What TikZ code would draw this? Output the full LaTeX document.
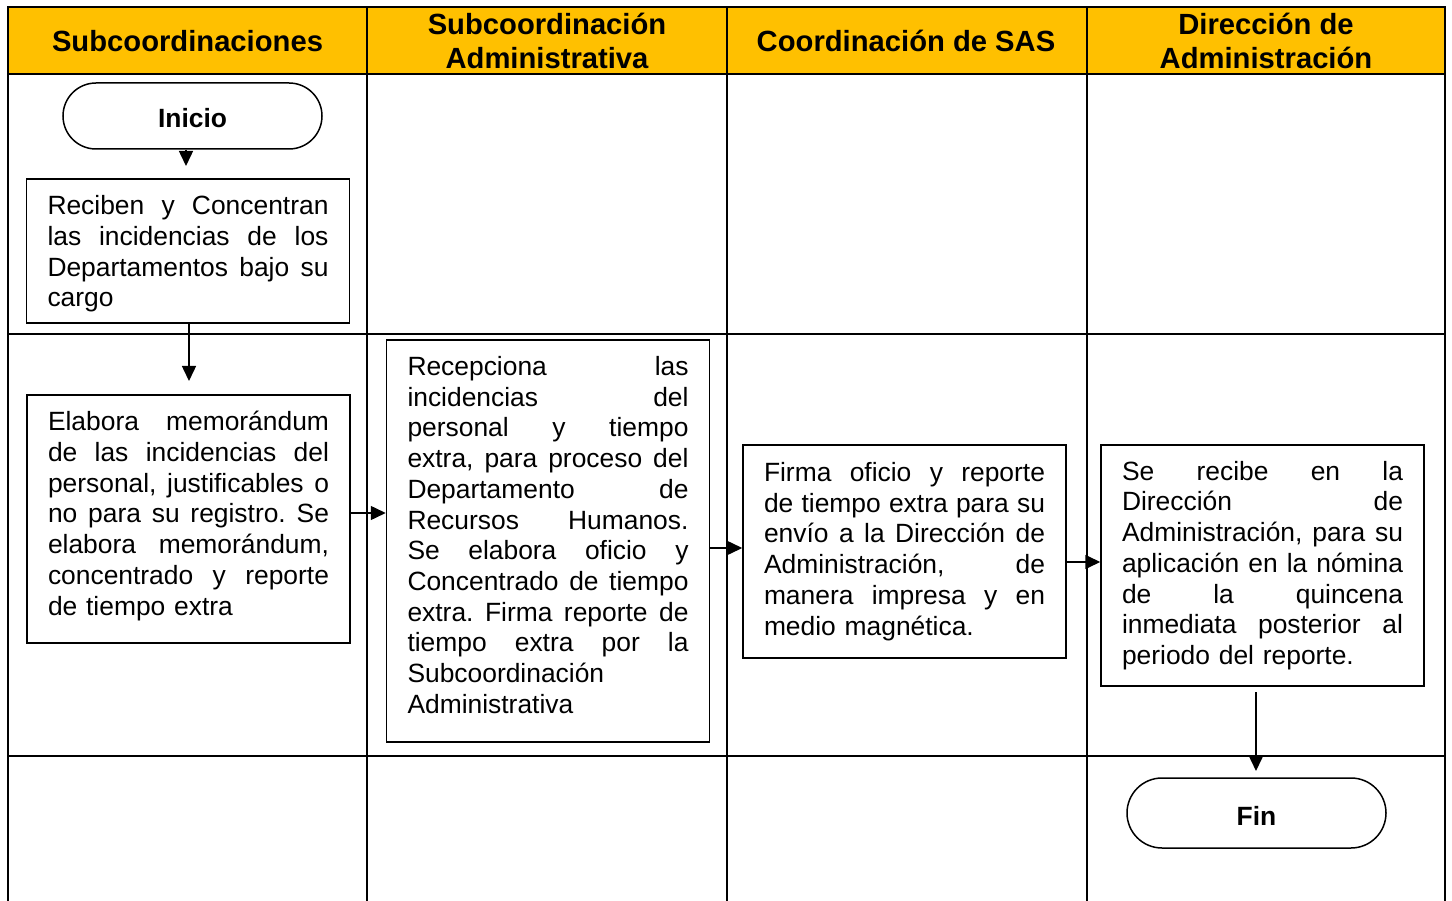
\documentclass[tikz,border=0pt]{standalone}
\usepackage{fontspec}
\setmainfont{Liberation Sans}
\usetikzlibrary{arrows.meta,calc}
\definecolor{hdrgold}{HTML}{FFC000}
\frenchspacing
\newcommand\jline[1]{\hbox to 281pt{\spaceskip=0.278em plus 1fil\relax\xspaceskip=\spaceskip #1}}
\newcommand\lline[1]{\hbox to 281pt{#1\hfil}}
\begin{document}
\begin{tikzpicture}[x=1pt,y=-1pt,
  tbl/.style={line width=2pt},
  hdr/.style={font=\bfseries\fontsize{29.2}{33.6}\selectfont, align=center},
  procbox/.style={draw, line width=1.5pt, text width=281pt, inner xsep=21pt, inner ysep=4pt,
     font=\fontsize{26.4}{30.7}\selectfont},
  term/.style={draw, line width=1.5pt, minimum width=259pt, inner sep=0pt, text height=24pt, text depth=0pt,
     font=\bfseries\fontsize{26.4}{30}\selectfont},
  arr/.style={line width=1.5pt, -{Triangle[length=15pt,width=14pt]}}]
\useasboundingbox (0,0) rectangle (1452,901);
% table
\fill[hdrgold] (8,7) rectangle (1445,74);
\draw[tbl] (8,901) -- (8,7) -- (1445,7) -- (1445,901);
\draw[tbl] (8,74) -- (1445,74);
\draw[tbl] (8,334) -- (1445,334);
\draw[tbl] (8,756) -- (1445,756);
\draw[tbl] (367,7) -- (367,901);
\draw[tbl] (727,7) -- (727,901);
\draw[tbl] (1087,7) -- (1087,901);
% headers
\node[hdr] (h1) at (187.5,41) {Subcoordinaciones};
\node[hdr] (h2) at (547,41) {Subcoordinación\\Administrativa};
\node[hdr] (h3) at (906,41) {Coordinación de SAS};
\node[hdr] (h4) at (1266,41) {Dirección de\\Administración};
% terminals
\node[term, minimum height=66pt, rounded corners=33pt] (ini) at (192.5,116) {Inicio};
\node[term, minimum height=70pt, rounded corners=35pt] (fin) at (1256.5,813) {Fin};
% process boxes
\node[procbox, minimum height=144pt] (b1) at (188,251) {%
\jline{Reciben y Concentran}
\jline{las incidencias de los}
\jline{Departamentos bajo su}
\lline{cargo}\par\kern-6pt};
\node[procbox, minimum height=248pt] (b2) at (188.5,519) {%
\jline{Elabora memorándum}
\jline{de las incidencias del}
\jline{personal, justificables o}
\jline{no para su registro. Se}
\jline{elabora memorándum,}
\jline{concentrado y reporte}
\lline{de tiempo extra}\par\kern6pt};
\node[procbox, minimum height=402pt] (b3) at (548,541) {%
\jline{Recepciona las}
\jline{incidencias del}
\jline{personal y tiempo}
\jline{extra, para proceso del}
\jline{Departamento de}
\jline{Recursos Humanos.}
\jline{Se elabora oficio y}
\jline{Concentrado de tiempo}
\jline{extra. Firma reporte de}
\jline{tiempo extra por la}
\lline{Subcoordinación}
\lline{Administrativa}\par\kern12pt};
\node[procbox, minimum height=213pt] (b4) at (904.5,551.5) {%
\jline{Firma oficio y reporte}
\jline{de tiempo extra para su}
\jline{envío a la Dirección de}
\jline{Administración, de}
\jline{manera impresa y en}
\lline{medio magnética.}};
\node[procbox, minimum height=241pt] (b5) at (1262.5,565.5) {%
\jline{Se recibe en la}
\jline{Dirección de}
\jline{Administración, para su}
\jline{aplicación en la nómina}
\jline{de la quincena}
\jline{inmediata posterior al}
\lline{periodo del reporte.}};
% connectors
\coordinate (t1) at (186,166);
\coordinate (t2) at (189,381);
\coordinate (s5) at (1256,692);
\coordinate (t5) at (1256,771);
\draw[arr] (ini.south -| t1) -- (t1);
\draw[arr] (b1.south -| t2) -- (t2);
\draw[arr] (b2.east |- 0,513) -- (b3.west |- 0,513);
\draw[arr] (b3.east |- 0,548) -- (b4.west |- 0,548);
\draw[arr] (b4.east |- 0,562) -- (b5.west |- 0,562);
\draw[arr] (s5) -- (t5);
\end{tikzpicture}
\end{document}
